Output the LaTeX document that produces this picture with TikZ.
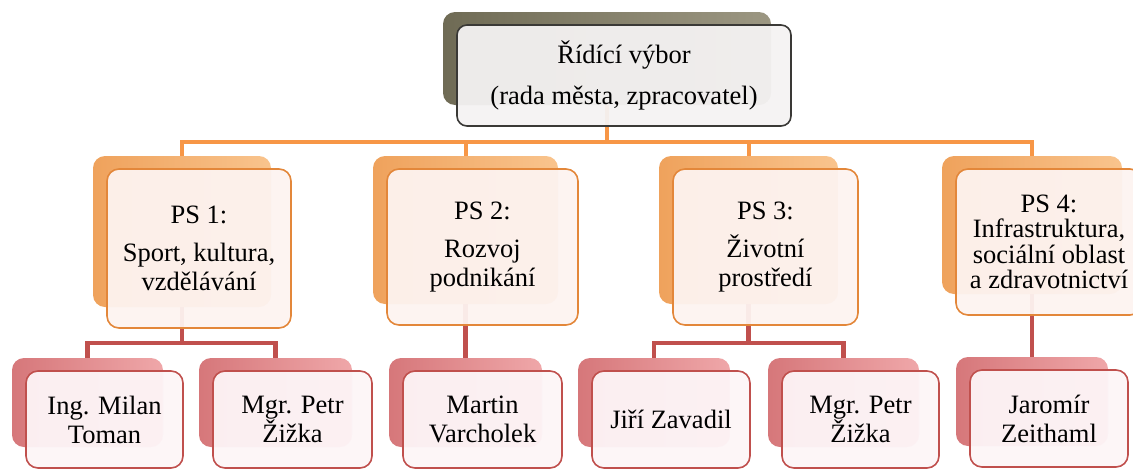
\documentclass[tikz,border=0pt]{standalone}
\usepackage{fontspec}
\setmainfont{Liberation Serif}

\definecolor{olivedark}{HTML}{6F6B55}
\definecolor{olivelight}{HTML}{9C9782}
\definecolor{topedge}{HTML}{3A3936}
\definecolor{topfill}{HTML}{F4F2F2}
\definecolor{orangedark}{HTML}{EFA25C}
\definecolor{orangelight}{HTML}{F9C48D}
\definecolor{orangeedge}{HTML}{E3873A}
\definecolor{orangefill}{HTML}{FDF3F0}
\definecolor{orangeline}{HTML}{F79646}
\definecolor{reddark}{HTML}{D6777A}
\definecolor{redlight}{HTML}{EFA7A9}
\definecolor{rededge}{HTML}{C0504D}
\definecolor{redfill}{HTML}{FDF5F7}

\tikzset{
  backbox/.style={inner sep=0pt, rounded corners=12pt},
  frontbox/.style={inner sep=0pt, rounded corners=12pt, line width=1.6pt,
    fill opacity=0.95, text opacity=1, align=center},
  topback/.style={backbox, left color=olivedark, right color=olivelight},
  topfront/.style={frontbox, draw=topedge, fill=topfill, rounded corners=10pt},
  psback/.style={backbox, left color=orangedark, right color=orangelight},
  psfront/.style={frontbox, draw=orangeedge, fill=orangefill},
  nameback/.style={backbox, left color=reddark, right color=redlight},
  namefront/.style={frontbox, draw=rededge, fill=redfill},
  topline/.style={draw=orangeline, line width=4pt},
  subline/.style={draw=rededge, line width=4.5pt}
}

\begin{document}
\begin{tikzpicture}[x=1pt,y=-1pt,font=\fontsize{26.5}{29}\selectfont]
\useasboundingbox (0,0) rectangle (1133,469);
\clip (0,0) rectangle (1133,469);

% back boxes
\node[topback, minimum width=328pt, minimum height=93pt] (topb) at (607,58.5) {};
\node[psback, minimum width=178pt, minimum height=151pt] (ps1b) at (182,231.5) {};
\node[psback, minimum width=185pt, minimum height=148pt] (ps2b) at (465.5,230) {};
\node[psback, minimum width=179pt, minimum height=148pt] (ps3b) at (748.5,230) {};
\node[psback, minimum width=180pt, minimum height=138pt] (ps4b) at (1032,225) {};
\node[nameback, minimum width=151pt, minimum height=89pt] (tomanb) at (87.5,402.5) {};
\node[nameback, minimum width=153pt, minimum height=89pt] (zizkaab) at (275.5,402.5) {};
\node[nameback, minimum width=153pt, minimum height=89pt] (martinb) at (465.5,402.5) {};
\node[nameback, minimum width=152pt, minimum height=89pt] (zavadilb) at (654,402.5) {};
\node[nameback, minimum width=151pt, minimum height=89pt] (zizkabb) at (843.5,402.5) {};
\node[nameback, minimum width=152pt, minimum height=89pt] (jaromirb) at (1032,401.5) {};

\coordinate (lev1) at (0,142);
\coordinate (lev2) at (0,343);

% connectors
\foreach \c in {ps1b,ps2b,ps3b,ps4b}
  \draw[topline] (topb.south) -- (topb.south |- lev1) -| (\c.north);
\foreach \p/\c in {ps1b/tomanb,ps1b/zizkaab,ps2b/martinb,ps3b/zavadilb,ps3b/zizkabb,ps4b/jaromirb}
  \draw[subline] (\p.south) -- (\p.south |- lev2) -| (\c.north);

% front boxes
\node[topfront, minimum width=334pt, minimum height=101pt] (top) at (624,75.5)
  {Řídící výbor\\[12pt](rada města, zpracovatel)};
\node[psfront, minimum width=184pt, minimum height=159pt] (ps1) at (199,248.5)
  {PS 1:\\[9pt]Sport, kultura,\\vzdělávání};
\node[psfront, minimum width=191pt, minimum height=156pt] (ps2) at (482.5,247)
  {PS 2:\\[9pt]Rozvoj\\podnikání};
\node[psfront, minimum width=185pt, minimum height=156pt] (ps3) at (765.5,247)
  {PS 3:\\[9pt]Životní\\prostředí};
\node[psfront, minimum width=186pt, minimum height=146pt, font=\fontsize{26.5}{25.5}\selectfont] (ps4) at (1049,242)
  {PS 4:\\Infrastruktura,\\sociální oblast\\a zdravotnictví};
\node[namefront, minimum width=157pt, minimum height=97pt] (toman) at (104.5,419.5)
  {Ing. Milan\\Toman};
\node[namefront, minimum width=159pt, minimum height=97pt] (zizkaa) at (292.5,419.5)
  {Mgr. Petr\\Žižka};
\node[namefront, minimum width=159pt, minimum height=97pt] (martin) at (482.5,419.5)
  {Martin\\Varcholek};
\node[namefront, minimum width=158pt, minimum height=97pt] (zavadil) at (671,419.5)
  {Jiří Zavadil};
\node[namefront, minimum width=157pt, minimum height=97pt] (zizkab) at (860.5,419.5)
  {Mgr. Petr\\Žižka};
\node[namefront, minimum width=158pt, minimum height=97pt] (jaromir) at (1049,418.5)
  {Jaromír\\Zeithaml};
\end{tikzpicture}
\end{document}
